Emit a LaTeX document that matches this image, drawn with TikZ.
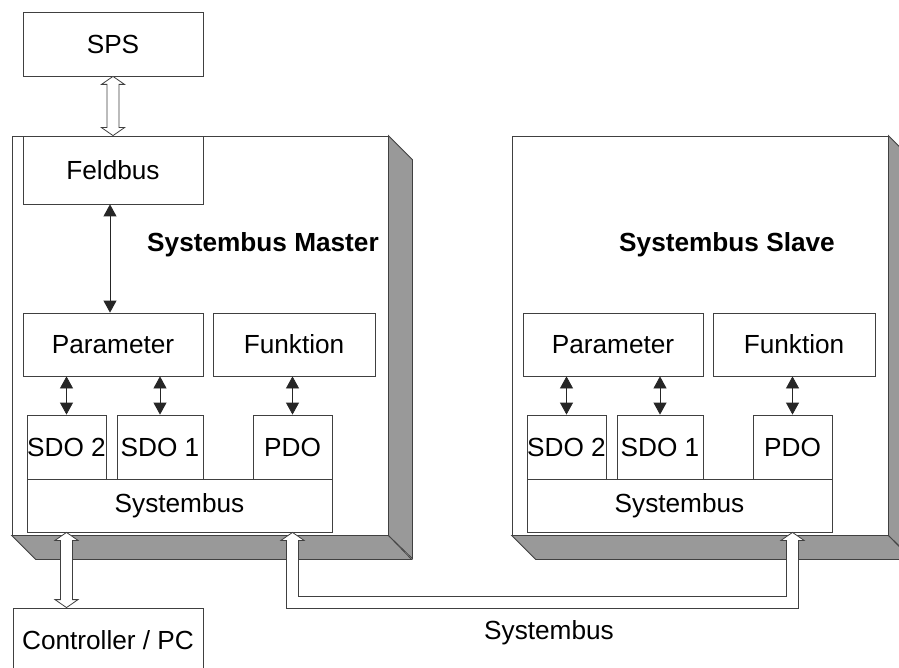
\documentclass[tikz,border=0pt]{standalone}
\usepackage{fontspec}
\setmainfont{Liberation Sans}
\usetikzlibrary{arrows.meta,positioning,calc}

% hollow double arrow, top point to bottom point
\newcommand\openarrow[2]{\draw[hollow] (#1) -- ++(11.5,8) -- ++(-5.5,0) -- ($(#2)+(6,-8)$) -- ++(5.5,0) -- (#2) -- ++(-11.5,-8) -- ++(5.5,0) -- ($(#1)+(-6,8)$) -- ++(-5.5,0) -- cycle;}

\begin{document}
\begin{tikzpicture}
[x=1pt,y=-1pt,
 blk/.style={rectangle,draw=black!75,fill=white,line width=0.8pt,inner sep=0pt,font=\fontsize{26.2}{30}\selectfont},
 device/.style={rectangle,draw=black!75,fill=white,line width=0.8pt,inner sep=0pt,minimum width=376pt,minimum height=399pt},
 sidewall/.style={fill=black!40,draw=black!75,line width=0.8pt},
 title/.style={font=\fontsize{26.2}{30}\selectfont\bfseries},
 link/.style={draw=black!85,line width=0.8pt,{Triangle[length=12pt,width=13pt]}-{Triangle[length=12pt,width=13pt]}},
 hollow/.style={draw=black!75,fill=white,line width=0.8pt}]
\clip (0,0) rectangle (899,668);

% master and slave
\foreach \u/\dx/\tx/\unitname in {M/0/263/Master, S/500/227/Slave} {
  \node[device] (dev\u) at (\dx+200,335.5) {};
  \draw[sidewall] (dev\u.south west) -- ++(24,24) -- ++(376,0) -- (dev\u.south east) -- cycle;
  \draw[sidewall] (dev\u.north east) -- ++(24,24) -- ++(0,399) -- (dev\u.south east) -- cycle;
  \node[title] (title\u) at (\dx+\tx,245) {Systembus \unitname};
  \node[blk,minimum width=180pt,minimum height=63pt] (param\u) at (\dx+113,344.5) {Parameter};
  \node[blk,minimum width=162pt,minimum height=63pt] (funk\u) at (\dx+294,344.5) {Funktion};
  \node[blk,minimum width=79pt,minimum height=64pt] (sdotwo\u) at (\dx+66.5,447) {SDO 2};
  \node[blk,minimum width=86pt,minimum height=64pt] (sdoone\u) at (\dx+160,447) {SDO 1};
  \node[blk,minimum width=79pt,minimum height=64pt] (pdo\u) at (\dx+292.5,447) {PDO};
  \node[blk,minimum width=305pt,minimum height=53pt] (bus\u) at (\dx+179.5,505.5) {Systembus};
  \draw[link] (param\u.south -| sdotwo\u) -- (sdotwo\u.north);
  \draw[link] (param\u.south -| sdoone\u) -- (sdoone\u.north);
  \draw[link] (funk\u.south -| pdo\u) -- (pdo\u.north);
}

\node[blk,minimum width=180pt,minimum height=64pt] (sps) at (113,44) {SPS};
\node[blk,minimum width=180pt,minimum height=68pt] (feldbus) at (113,170) {Feldbus};
\node[blk,minimum width=190pt,minimum height=64pt] (ctrl) at (108,640) {Controller / PC};
\node[font=\fontsize{26.2}{30}\selectfont] (buslabel) at (549,633) {Systembus};

\openarrow{sps.south}{feldbus.north}
\draw[link] ([xshift=-3pt]feldbus.south) -- ([xshift=-3pt]paramM.north);
\coordinate (ctrltop) at (ctrl.north -| sdotwoM);
\coordinate (busout) at (busM.south -| sdotwoM);
\openarrow{busout}{ctrltop}

% systembus between master and slave
\coordinate (busl) at (busM.south -| pdoM);
\coordinate (busr) at (busS.south -| pdoS);
\draw[hollow] (busl) -- ++(11.5,8) -- ++(-5.5,0) -- ($(busl)+(6,64)$) -- ($(busr)+(-6,64)$) -- ($(busr)+(-6,8)$) -- ++(-5.5,0) -- (busr) -- ++(11.5,8) -- ++(-5.5,0) -- ($(busr)+(6,76)$) -- ($(busl)+(-6,76)$) -- ($(busl)+(-6,8)$) -- ++(-5.5,0) -- cycle;
\end{tikzpicture}
\end{document}
